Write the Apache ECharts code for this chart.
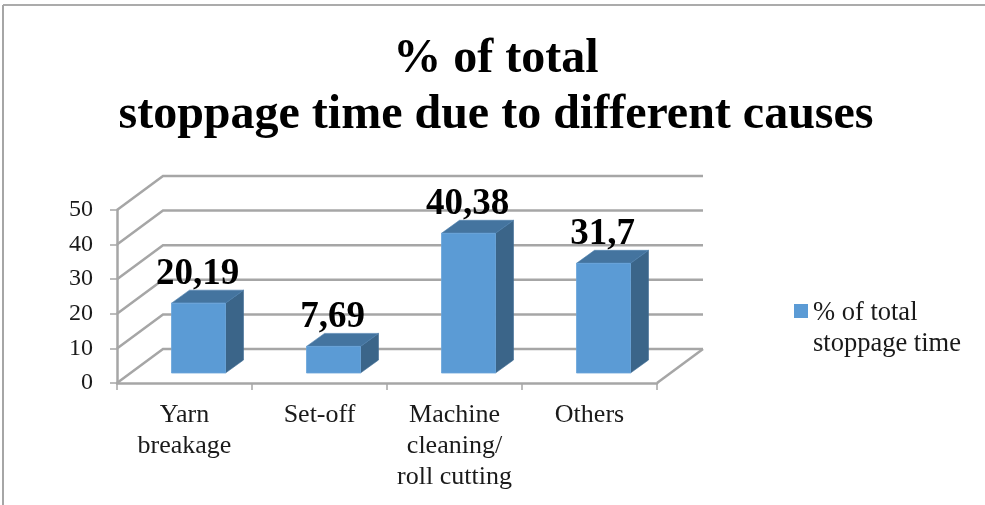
<!DOCTYPE html>
<html><head><meta charset="utf-8">
<style>html,body{margin:0;padding:0;background:#fff}#c{width:985px;height:505px}</style>
<script src="https://cdn.jsdelivr.net/npm/echarts@6/dist/echarts.min.js"></script>
</head><body><div id="c"></div>
<script>
var categories = ['Yarn\nbreakage', 'Set-off', 'Machine\ncleaning/\nroll cutting', 'Others'];
var stoppageShare = [20.19, 7.69, 40.38, 31.7];
var valueTicks = [0, 10, 20, 30, 40, 50];
var seriesName = '% of total stoppage time';
var chartTitle = '% of total\nstoppage time due to different causes';

var FONT = '"Liberation Serif","Times New Roman",serif';
var LINE = '#a6a6a6';
var WALL_DX = 46, WALL_DY = -34;     // depth of the box
var BAR_DX = 14, BAR_DY = -10;       // bar position inside the box
var BAR_DEPTH_X = 18, BAR_DEPTH_Y = -13;
var BAR_W = 54;

function pts(a){ return {points:a}; }

function renderWalls(params, api){
  var cs = params.coordSys;
  var y = api.coord([0, api.value(1)])[1];
  var left = cs.x, right = cs.x + cs.width;
  var children = [{
    type:'polyline',
    shape: pts([[left,y],[left+WALL_DX,y+WALL_DY],[right+WALL_DX,y+WALL_DY]]),
    style:{stroke:LINE, lineWidth:2.5, fill:null}
  }];
  if (api.value(1) === 0) {
    children.push({type:'polyline',
      shape: pts([[right+WALL_DX,y+WALL_DY],[right,y]]),
      style:{stroke:LINE, lineWidth:2.5, fill:null}});
  }
  return {type:'group', children:children};
}

function renderBar(params, api){
  var idx = api.value(0), v = api.value(1);
  var top = api.coord([idx, v]), base = api.coord([idx, 0]);
  var x0 = top[0] + BAR_DX - BAR_W/2, x1 = x0 + BAR_W;
  var yT = top[1] + BAR_DY, yB = base[1] + BAR_DY;
  var dx = BAR_DEPTH_X, dy = BAR_DEPTH_Y;
  return {type:'group', children:[
    {type:'polygon', shape:pts([[x1,yT],[x1+dx,yT+dy],[x1+dx,yB+dy],[x1,yB]]),
      style:{fill:'#3b6589', stroke:'#3f6d95', lineWidth:0.6}},
    {type:'polygon', shape:pts([[x0,yT],[x0+dx,yT+dy],[x1+dx,yT+dy],[x1,yT]]),
      style:{fill:'#44749f', stroke:'#4b7fae', lineWidth:0.6}},
    {type:'rect', shape:{x:x0,y:yT,width:BAR_W,height:yB-yT},
      style:{fill:'#5b9bd5', stroke:'#6aa5da', lineWidth:0.8}},
    {type:'text', style:{
      text:String(v).replace('.',','),
      x:(x0+x1)/2-1, y:yT-10,
      align:'center', verticalAlign:'bottom',
      font:'bold 37px '+FONT, fill:'#000'
    }}
  ]};
}

var chart = echarts.init(document.getElementById('c'), null, {renderer:'canvas'});
chart.setOption({
  animation:false,
  backgroundColor:'#fff',
  title:{
    text:chartTitle, left:496, top:32, textAlign:'center', padding:0,
    textStyle:{fontFamily:FONT, fontWeight:'bold', fontSize:48, lineHeight:56, color:'#000'}
  },
  legend:{
    data:[{name:seriesName, icon:'path://M0 0H14V14H0Z M0 49L0 49'}], left:794, top:297.5, orient:'vertical', padding:0,
    itemWidth:14, itemHeight:49, itemGap:0,
    formatter:function(){ return '% of total\nstoppage time'; },
    selectedMode:false,
    textStyle:{fontFamily:FONT, fontSize:26.5, color:'#1a1a1a', lineHeight:31}
  },
  grid:{left:117, right:328, top:210, bottom:122},
  xAxis:{
    type:'category', data:categories,
    axisLine:{lineStyle:{color:LINE, width:2.5}},
    axisTick:{show:true, length:7, lineStyle:{color:LINE, width:1.5}},
    axisLabel:{fontFamily:FONT, fontSize:26, color:'#1a1a1a', lineHeight:31, margin:17, interval:0}
  },
  yAxis:{
    type:'value', min:0, max:50, interval:10,
    splitLine:{show:false},
    axisLine:{show:true, lineStyle:{color:LINE, width:2.5}},
    axisTick:{show:true, length:7, lineStyle:{color:LINE, width:1.5}},
    axisLabel:{fontFamily:FONT, fontSize:24, color:'#1a1a1a', margin:24, formatter:function(v){return String(v);}}
  },
  graphic:[
    {type:'line', shape:{x1:3,y1:5,x2:985,y2:5}, style:{stroke:'#8f8f8f', lineWidth:1.5}, silent:true},
    {type:'line', shape:{x1:3,y1:5,x2:3,y2:505}, style:{stroke:'#a6a6a6', lineWidth:2}, silent:true}
  ],
  series:[
    {type:'custom', name:'walls', renderItem:renderWalls, silent:true, z:1,
      data:valueTicks.map(function(t){return [0,t];}), encode:{x:0,y:1}},
    {type:'custom', name:seriesName, renderItem:renderBar, z:3,
      itemStyle:{color:'#5b9bd5'},
      data:stoppageShare.map(function(v,i){return [i,v];}), encode:{x:0,y:1}}
  ]
});
</script></body></html>
